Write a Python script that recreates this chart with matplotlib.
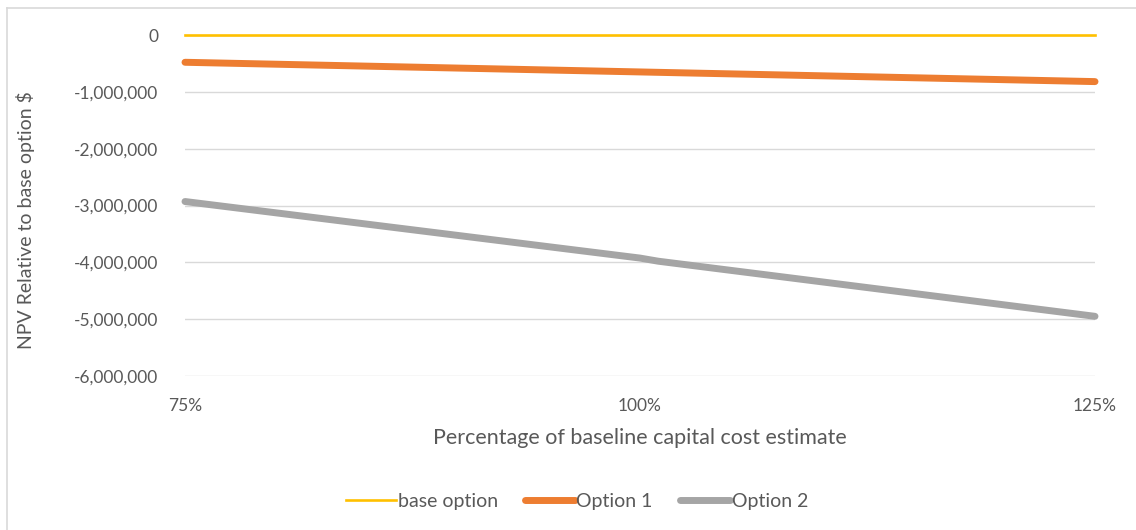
import matplotlib
matplotlib.use("Agg")
import matplotlib.pyplot as plt
from matplotlib.lines import Line2D
from matplotlib.ticker import FuncFormatter

# Data
x_base = [75, 125]
base_option = [0, 0]
x_opt1 = [75, 125]
option1 = [-480000, -820000]
x_opt2 = [75, 100, 101, 125]
option2 = [-2930000, -3925000, -3980000, -4950000]
x_ticks = [75, 100, 125]
x_tick_labels = ["75%", "100%", "125%"]
y_ticks = [0, -1000000, -2000000, -3000000, -4000000, -5000000, -6000000]

plt.rcParams['font.family'] = ['Lato', 'DejaVu Sans']
txt = '#595959'

W, H = 1136, 530
fig = plt.figure(figsize=(W / 100, H / 100), dpi=100)
ax = fig.add_axes([185 / W, 1 - 376 / H, (1095 - 185) / W, (376 - 35) / H])

ax.plot(x_base, base_option, color='#FFC000', lw=1.9, label='base option', clip_on=False, zorder=3)
ax.plot(x_opt1, option1, color='#ED7D31', lw=5.0, label='Option 1', clip_on=False,
        solid_capstyle='round', zorder=3)
ax.plot(x_opt2, option2, color='#A5A5A5', lw=5.0, label='Option 2', clip_on=False,
        solid_capstyle='round', zorder=3)

ax.set_xlim(75, 125)
ax.set_ylim(-6000000, 0)
ax.set_xticks(x_ticks)
ax.set_xticklabels(x_tick_labels)
ax.set_yticks(y_ticks)
ax.yaxis.set_major_formatter(FuncFormatter(lambda v, p: f"{int(v):,}"))
ax.grid(axis='y', color='#d9d9d9', lw=1.0)
ax.set_axisbelow(True)
for s in ax.spines.values():
    s.set_visible(False)
ax.tick_params(length=0, labelsize=12.5, colors=txt)
ax.tick_params(axis='y', pad=19)
ax.tick_params(axis='x', pad=16)

ax.set_xlabel('Percentage of baseline capital cost estimate', fontsize=15.5, color=txt, va='center')
ax.xaxis.set_label_coords(0.4995, -0.1818)
ax.set_ylabel('NPV Relative to base option $', fontsize=14, color=txt, va='center')
ax.yaxis.set_label_coords(-0.1758, 0.457)

leg = fig.legend(loc='center', bbox_to_anchor=(577 / W, 1 - 501 / H), ncol=3, frameon=False,
                 fontsize=14, handlelength=2.55, columnspacing=1.4, handletextpad=0.1,
                 labelcolor=txt)

# chart area border (left and top)
fig.add_artist(Line2D([7 / W, 7 / W], [0, 1 - 8 / H], color='#d9d9d9', lw=1.2))
fig.add_artist(Line2D([7 / W, 1], [1 - 8 / H, 1 - 8 / H], color='#d9d9d9', lw=1.2))

fig.savefig('out.png', dpi=100, facecolor='white')
